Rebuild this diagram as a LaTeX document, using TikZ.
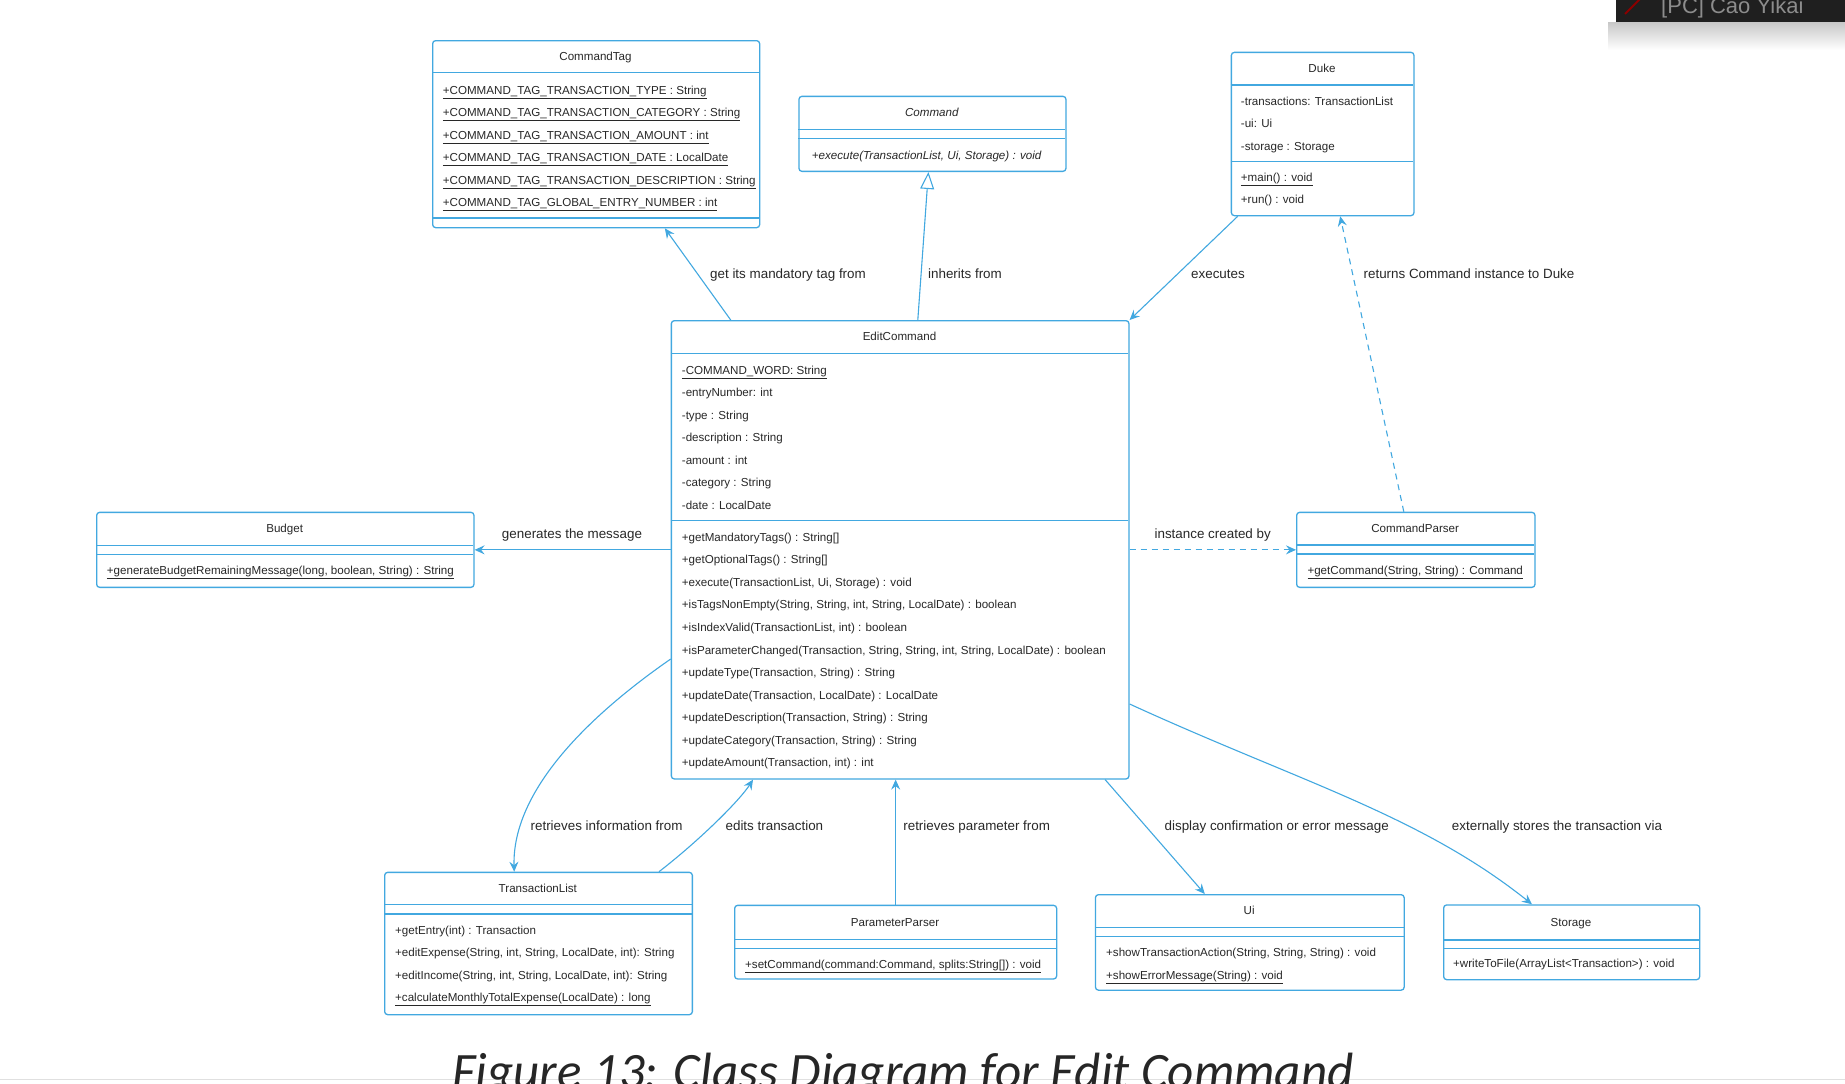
\documentclass[tikz,border=0pt]{standalone}
\usepackage{fontspec}
\setmainfont{Liberation Sans}
\newfontfamily\captionfont{Carlito}
\usetikzlibrary{arrows.meta,calc,positioning}
\definecolor{umlblue}{RGB}{66,168,224}
\definecolor{umltext}{RGB}{40,40,40}

\tikzset{
	classbox/.style={draw=umlblue, line width=1.3pt, rounded corners=3pt, fill=white, inner sep=0pt, anchor=north west},
	classsep/.style={draw=umlblue, line width=1.1pt},
	classtitle/.style={font=\fontsize{11.6}{13}\selectfont, text=umltext, anchor=base, inner sep=0pt},
	member/.style={font=\fontsize{11.6}{13}\selectfont, text=umltext, anchor=base west, inner sep=0pt},
	assoc/.style={draw=umlblue, line width=1.1pt, -{Stealth[length=10pt,width=9pt,inset=3.5pt]}},
	depend/.style={assoc, dash pattern=on 6pt off 5pt},
	inherit/.style={draw=umlblue, line width=1.1pt, -{Triangle[open,length=17pt,width=14pt,fill=white]}},
	linklabel/.style={font=\fontsize{13.4}{15}\selectfont, text=umltext, anchor=base, inner sep=0pt}
}

% #1 name, #2 left, #3 top, #4 right, #5 bottom, #6 title, #7 and #8 separators
\newcommand{\umlclass}[8]{%
	\node[classbox, minimum width={#4-#2}, minimum height={#5-#3}] (#1) at (#2,#3) {};
	\draw[classsep] (#2,#7) -- (#4,#7);
	\draw[classsep] (#2,#8) -- (#4,#8);
	\node[classtitle] (#1-title) at ({(#2+#4)/2},{(#3+#7)/2+4}) {#6};
}
% #1 name, #2 left, #3 first baseline, #4 list of members
\newcommand{\umlmembers}[4]{%
	\foreach \m [count=\i from 0] in {#4}
		\node[member] (#1-\i) at (#2,{#3+22.55*\i}) {\m};
}

\begin{document}
\begin{tikzpicture}[x=1pt, y=-1pt]
	
	\useasboundingbox (0,0) rectangle (1845,1084);
	\clip (0,0) rectangle (1845,1084);
	\fill[white] (0,0) rectangle (1845,1084);
	
	% Classes
	\umlclass{tag}{432}{40}{759}{227}{CommandTag}{72.7}{218}
	\umlmembers{tag}{442.7}{94}{
		\underline{+COMMAND\_TAG\_TRANSACTION\_TYPE : String},
		\underline{+COMMAND\_TAG\_TRANSACTION\_CATEGORY : String},
		\underline{+COMMAND\_TAG\_TRANSACTION\_AMOUNT : int},
		\underline{+COMMAND\_TAG\_TRANSACTION\_DATE : LocalDate},
		\underline{+COMMAND\_TAG\_TRANSACTION\_DESCRIPTION : String},
		\underline{+COMMAND\_TAG\_GLOBAL\_ENTRY\_NUMBER : int}}
	
	\umlclass{cmd}{798.3}{95.7}{1065.3}{170.7}{\itshape Command}{129.3}{138.3}
	\umlmembers{cmd}{811.7}{159}{{\itshape +execute(TransactionList, Ui, Storage) : void}}
	
	\umlclass{duke}{1230.7}{51.7}{1413.3}{215}{Duke}{85}{161.7}
	\umlmembers{duke}{1240.7}{105}{-transactions: TransactionList, -ui: Ui, -storage : Storage}
	\umlmembers{dukeop}{1240.7}{181.3}{\underline{+main() : void}, +run() : void}
	
	\umlclass{edit}{670.7}{320}{1128.3}{778.3}{EditCommand}{353.3}{520.7}
	\umlmembers{edit}{681.7}{374}{
		\underline{-COMMAND\_WORD: String},
		-entryNumber: int, -type : String, -description : String,
		-amount : int, -category : String, -date : LocalDate}
	\umlmembers{editop}{681.7}{541.3}{
		+getMandatoryTags() : String[],
		+getOptionalTags() : String[],
		{+execute(TransactionList, Ui, Storage) : void},
		{+isTagsNonEmpty(String, String, int, String, LocalDate) : boolean},
		{+isIndexValid(TransactionList, int) : boolean},
		{+isParameterChanged(Transaction, String, String, int, String, LocalDate) : boolean},
		{+updateType(Transaction, String) : String},
		{+updateDate(Transaction, LocalDate) : LocalDate},
		{+updateDescription(Transaction, String) : String},
		{+updateCategory(Transaction, String) : String},
		{+updateAmount(Transaction, int) : int}}
	
	\umlclass{budget}{96}{511.7}{473.3}{586.7}{Budget}{545.7}{554.3}
	\umlmembers{budget}{106.7}{574.7}{{\underline{+generateBudgetRemainingMessage(long, boolean, String) : String}}}
	
	\umlclass{parser}{1296}{511.7}{1534.3}{586.7}{CommandParser}{545}{554}
	\umlmembers{parser}{1307.3}{574.7}{{\underline{+getCommand(String, String) : Command}}}
	
	\umlclass{tlist}{384}{871.7}{691.7}{1014}{TransactionList}{904.3}{914}
	\umlmembers{tlist}{395}{934}{
		+getEntry(int) : Transaction,
		{+editExpense(String, int, String, LocalDate, int): String},
		{+editIncome(String, int, String, LocalDate, int): String},
		\underline{+calculateMonthlyTotalExpense(LocalDate) : long}}
	
	\umlclass{pparser}{734}{904.7}{1056}{978.3}{ParameterParser}{939.3}{948.3}
	\umlmembers{pparser}{745}{968}{{\underline{+setCommand(command:Command, splits:String[]) : void}}}
	
	\umlclass{ui}{1094.8}{894}{1403.5}{989.5}{Ui}{927.3}{936.7}
	\umlmembers{ui}{1106}{956.7}{{+showTransactionAction(String, String, String) : void},
		\underline{+showErrorMessage(String) : void}}
	
	\umlclass{storage}{1443}{904.3}{1699}{979}{Storage}{940}{948.3}
	\umlmembers{storage}{1453}{967.3}{+writeToFile(ArrayList<Transaction>) : void}
	
	% Connectors
	\draw[assoc] ($(edit.north west)+(60,0)$) -- ($(tag.south west)+(232.8,0)$);
	\draw[inherit] ($(edit.north west)+(247.1,0)$) -- ($(cmd.south west)+(130.1,0)$);
	\draw[assoc] ($(duke.south west)+(7,0)$) -- (edit.north east);
	\draw[depend] ($(parser.north west)+(107.8,0)$) -- ($(duke.south west)+(109.5,0)$);
	\draw[assoc] (edit.west |- budget.east) -- (budget.east);
	\draw[depend] (edit.east |- parser.west) -- (parser.west);
	\draw[assoc] ($(edit.north west)+(0,339)$) .. controls (590,715) and (512,790) .. ($(tlist.north west)+(130.2,0)$);
	\draw[assoc] ($(tlist.north west)+(275,0)$) .. controls (700,840) and (740,800) .. ($(edit.south west)+(82.3,0)$);
	\draw[assoc] (pparser.north) -- (pparser.north |- edit.south);
	\draw[assoc] ($(edit.south east)+(-24.5,0)$) -- ($(ui.north west)+(110,0)$);
	\draw[assoc] ($(edit.north east)+(0,384)$) .. controls (1300,782) and (1420,815) .. ($(storage.north west)+(89,0)$);
	
	% Connector labels
	\node[linklabel] (lbl-tag) at (788,278) {get its mandatory tag from};
	\node[linklabel] (lbl-cmd) at (965,278) {inherits from};
	\node[linklabel] (lbl-duke) at (1218,278) {executes};
	\node[linklabel] (lbl-return) at (1469,278) {returns Command instance to Duke};
	\node[linklabel] (lbl-budget) at (572,538) {generates the message};
	\node[linklabel] (lbl-parser) at (1212.7,538) {instance created by};
	\node[linklabel] (lbl-tlist) at (606.6,830) {retrieves information from};
	\node[linklabel] (lbl-edits) at (774.4,830) {edits transaction};
	\node[linklabel] (lbl-pparser) at (976.7,830) {retrieves parameter from};
	\node[linklabel] (lbl-ui) at (1276.7,830) {display confirmation or error message};
	\node[linklabel] (lbl-storage) at (1557,830) {externally stores the transaction via};
	
	% Page edge and caption
	\draw[black!12, line width=1pt] (0,1079) -- (1845,1079);
	\node[font=\captionfont\itshape\fontsize{51}{55}\selectfont, text=black!85, anchor=base, inner sep=0pt] (caption) at (903,1088) {Figure 13: Class Diagram for Edit Command};
	
	% Screen overlay
	\shade[top color=black!22, bottom color=white] (1608,22) rectangle (1845,50);
	\fill[black!88] (1616,0) rectangle (1845,22);
	\draw[red!55!black, line width=2pt] (1625,14) -- (1641,-2);
	\node[font=\fontsize{22}{24}\selectfont, text=black!45, anchor=base west, inner sep=0pt] (overlay) at (1661,13) {[PC] Cao Yikai};
	
\end{tikzpicture}
\end{document}
